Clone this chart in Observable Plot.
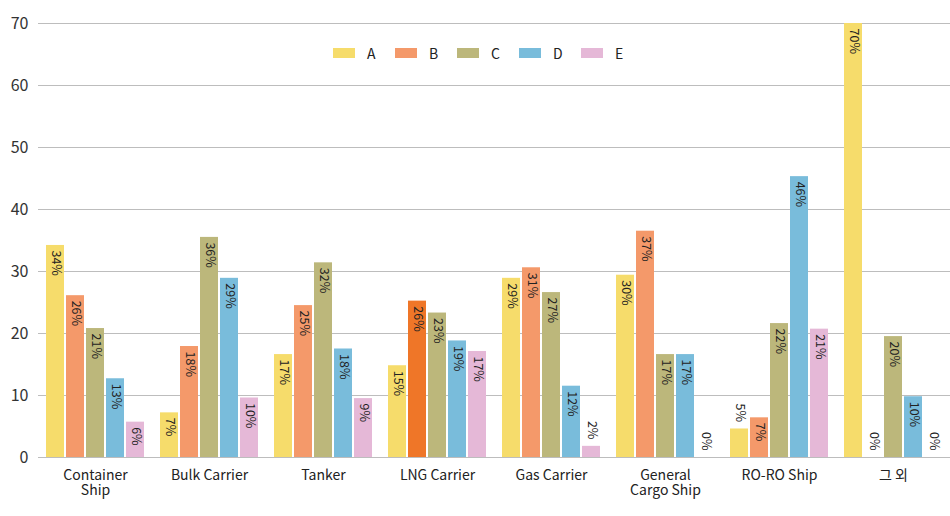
<!DOCTYPE html>
<html><head><meta charset="utf-8">
<script src="https://cdn.jsdelivr.net/npm/d3@7"></script>
<script src="https://cdn.jsdelivr.net/npm/@observablehq/plot@0.6"></script>
<style>
body{margin:0;background:#fff;font-family:"Noto Sans CJK KR","Noto Sans",sans-serif}
#chart{position:relative;width:950px;height:516px}
#legend{position:absolute;top:45px;left:333px;display:flex;font-size:14px;color:#222;line-height:16px}
#legend .item{display:flex;align-items:center;width:62px}
#legend .sw{width:22px;height:10px;margin-right:12px}
</style></head><body><div id="chart"><div id="legend"></div></div>
<script>
const categories = ["Container\nShip","Bulk Carrier","Tanker","LNG Carrier","Gas Carrier","General\nCargo Ship","RO-RO Ship","그 외"];
const seriesNames = ["A","B","C","D","E"];
const valuesA = [34.2, 7.2, 16.6, 14.8, 28.9, 29.4, 4.6, 70];
const valuesB = [26.1, 17.9, 24.5, 25.2, 30.6, 36.5, 6.4, 0];
const valuesC = [20.8, 35.5, 31.4, 23.3, 26.6, 16.6, 21.6, 19.5];
const valuesD = [12.7, 28.9, 17.5, 18.8, 11.5, 16.6, 45.3, 9.8];
const valuesE = [5.7, 9.6, 9.5, 17.1, 1.8, 0, 20.7, 0];
const labelsA = ["34%","7%","17%","15%","29%","30%","5%","70%"];
const labelsB = ["26%","18%","25%","26%","31%","37%","7%","0%"];
const labelsC = ["21%","36%","32%","23%","27%","17%","22%","20%"];
const labelsD = ["13%","29%","18%","19%","12%","17%","46%","10%"];
const labelsE = ["6%","10%","9%","17%","2%","0%","21%","0%"];
const yTicks = [0,10,20,30,40,50,60,70];
const colors = ["#f6dc6b","#f4996a","#bcb77b","#79bcdb","#e5b8d7"];
const highlightCategory = "LNG Carrier", highlightSeries = "B", highlightColor = "#ef7628";

const allValues = [valuesA, valuesB, valuesC, valuesD, valuesE];
const allLabels = [labelsA, labelsB, labelsC, labelsD, labelsE];
const rows = [];
categories.forEach((c, i) => seriesNames.forEach((s, j) => {
  rows.push({category: c, series: s, value: allValues[j][i], label: allLabels[j][i]});
}));
const inside = rows.filter(d => d.value >= 5.5);
const outside = rows.filter(d => d.value < 5.5);
const hl = rows.filter(d => d.category === highlightCategory && d.series === highlightSeries);

const font = '"Noto Sans CJK KR","Noto Sans",sans-serif';
const plot = Plot.plot({
  width: 950, height: 516,
  marginTop: 23, marginBottom: 59, marginLeft: 38, marginRight: 0,
  style: {fontFamily: font, background: "white", overflow: "visible"},
  fx: {domain: categories, padding: 0, label: null},
  x: {domain: seriesNames, paddingInner: 0.1, paddingOuter: 0.4, axis: null},
  y: {domain: [0, 70], label: null},
  color: {domain: seriesNames, range: colors},
  marks: [
    Plot.gridY(yTicks, {stroke: "#bdbdbd", strokeOpacity: 1, strokeWidth: 1}),
    Plot.axisY(yTicks, {tickSize: 0, tickPadding: 10, fontSize: 16, fill: "#333", label: null}),
    Plot.axisFx({anchor: "bottom", tickSize: 0, tickPadding: 12, fontSize: 14, fill: "#222", label: null, lineHeight: 1.05}),
    Plot.barY(rows, {fx: "category", x: "series", y: "value", fill: "series"}),
    Plot.barY(hl, {fx: "category", x: "series", y: "value", fill: highlightColor}),
    Plot.text(inside, {fx: "category", x: "series", y: "value", text: "label", rotate: 90, textAnchor: "start", lineAnchor: "middle", dy: 5, fontSize: 12.5, fill: "#222"}),
    Plot.text(outside, {fx: "category", x: "series", y: "value", text: "label", rotate: 90, textAnchor: "end", lineAnchor: "middle", dy: -7, fontSize: 12.5, fill: "#222"})
  ]
});
document.getElementById("chart").prepend(plot);

const legend = document.getElementById("legend");
seriesNames.forEach((s, i) => {
  const item = document.createElement("div"); item.className = "item";
  const sw = document.createElement("span"); sw.className = "sw"; sw.style.background = colors[i];
  const t = document.createElement("span"); t.textContent = s;
  item.append(sw, t); legend.append(item);
});
</script></body></html>
